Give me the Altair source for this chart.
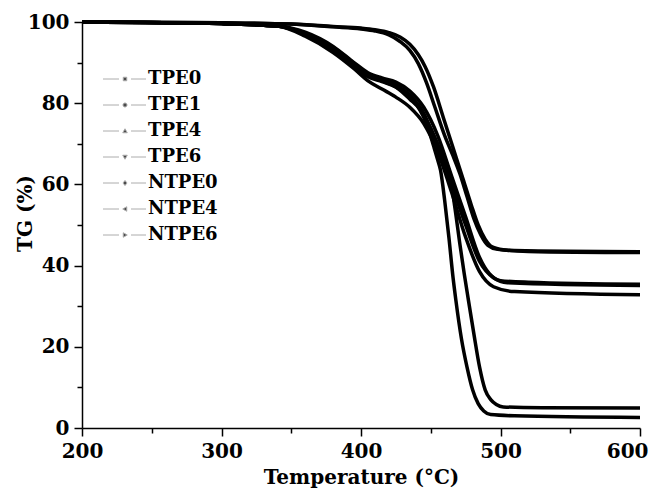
import altair as alt
import pandas as pd

# ---- data (temperature in °C, TG in %) ----
series_names = ["TPE0", "TPE1", "TPE4", "TPE6", "NTPE0", "NTPE4", "NTPE6"]

tpe0_t = [200, 300, 340, 360, 380, 395, 405, 415, 425, 435, 442, 448, 452, 455, 457, 460, 463, 466, 468, 472, 476, 480, 484, 488, 493, 510, 600]
tpe0_v = [100, 99.6, 99, 97, 93.5, 89.5, 87, 85.5, 84, 81, 78.5, 74, 69.5, 66, 63.5, 56, 47, 37, 31.5, 22, 15, 9.4, 6, 4.2, 3.3, 3.0, 2.6]

tpe1_t = [200, 300, 350, 380, 400, 410, 420, 428, 435, 441, 447, 453, 460, 466, 471, 476, 481, 486, 491, 498, 510, 600]
tpe1_v = [100, 99.8, 99.5, 98.8, 98.3, 97.8, 96.8, 95.2, 93, 89.8, 85, 79, 72, 67, 62.5, 57, 51.5, 47.5, 45, 44, 43.7, 43.4]

tpe4_t = [200, 300, 340, 360, 380, 395, 405, 415, 425, 435, 445, 455, 465, 475, 485, 492, 500, 520, 600]
tpe4_v = [100, 99.6, 99, 97.5, 94, 90, 87.5, 86.2, 85.2, 83, 79, 72, 62, 52, 42, 38, 36.3, 35.9, 35.4]

tpe6_t = [200, 300, 340, 360, 380, 395, 405, 415, 425, 435, 445, 455, 465, 475, 485, 495, 505, 600]
tpe6_v = [100, 99.6, 99, 97, 93, 89, 86.5, 85.3, 84, 81.5, 77, 70, 60, 50, 41, 37, 35.8, 35.1]

ntpe0_t = [200, 300, 340, 360, 380, 395, 405, 415, 425, 435, 445, 452, 458, 463, 467, 471, 474, 477, 481, 485, 489, 493, 497, 502, 530, 600]
ntpe0_v = [100, 99.6, 99, 97.2, 93.8, 89.8, 87.2, 85.8, 84.5, 82, 77.5, 72, 67, 63.5, 55, 45, 38, 31.5, 23, 15, 9.4, 7, 5.8, 5.2, 5.0, 4.9]

ntpe4_t = [200, 300, 350, 380, 400, 410, 420, 428, 435, 441, 446, 452, 459, 466, 473, 479, 484, 489, 494, 502, 520, 600]
ntpe4_v = [100, 99.8, 99.5, 98.9, 98.5, 98.1, 97.4, 96.3, 94.5, 92, 89, 84, 76.5, 69, 61.5, 55, 50, 46.5, 44.6, 43.9, 43.5, 43.2]

ntpe6_t = [200, 300, 340, 360, 380, 395, 405, 415, 425, 435, 445, 455, 465, 475, 485, 495, 510, 600]
ntpe6_v = [100, 99.6, 99, 96.5, 92.5, 88.5, 85.5, 83.5, 81.5, 79, 75, 68, 58, 47, 38.5, 34.8, 33.6, 32.8]

x_major = [200, 300, 400, 500, 600]
x_minor = [250, 350, 450, 550]
y_major = [0, 20, 40, 60, 80, 100]
y_minor = [10, 30, 50, 70, 90]

# legend symbols: "— marker —" drawn as custom paths
dash = "M-4.4,0H-1.2M1.2,0H4.2"
legend_shapes = [
    dash + "M-0.35,-0.35H0.35V0.35H-0.35Z",
    dash + "M-0.4,0A0.4,0.4 0 1,0 0.4,0A0.4,0.4 0 1,0 -0.4,0Z",
    dash + "M0,-0.45L0.45,0.35H-0.45Z",
    dash + "M0,0.45L0.45,-0.35H-0.45Z",
    dash + "M0,-0.5L0.4,0L0,0.5L-0.4,0Z",
    dash + "M-0.45,0L0.35,-0.45V0.45Z",
    dash + "M0.45,0L-0.35,-0.45V0.45Z",
]

all_t = [tpe0_t, tpe1_t, tpe4_t, tpe6_t, ntpe0_t, ntpe4_t, ntpe6_t]
all_v = [tpe0_v, tpe1_v, tpe4_v, tpe6_v, ntpe0_v, ntpe4_v, ntpe6_v]
rows = []
for name, ts, vs in zip(series_names, all_t, all_v):
    for t, v in zip(ts, vs):
        rows.append({"series": name, "T": t, "TG": v})
df = pd.DataFrame(rows)

FONT = "DejaVu Serif"

xscale = alt.Scale(domain=[200, 600], nice=False, zero=False)
yscale = alt.Scale(domain=[0, 100], nice=False)

lines = alt.Chart(df).mark_line(
    color="black", strokeWidth=3.5, interpolate="monotone"
).encode(
    x=alt.X("T:Q", scale=xscale, axis=alt.Axis(
        orient="bottom", values=x_major, tickSize=8, labelPadding=5,
        labelFlush=False, labelOverlap=False,
        labelAlign={"condition": {"test": "datum.value == 600", "value": "right"}, "value": "center"},
        labelOffset={"condition": {"test": "datum.value == 600", "value": 8}, "value": 0},
        title="Temperature (°C)", titleY=49, titleBaseline="middle",
        titleFontSize=20)),
    y=alt.Y("TG:Q", scale=yscale, axis=alt.Axis(
        orient="left", values=y_major, tickSize=8, labelPadding=5,
        labelFlush=False, labelOverlap=False,
        title="TG (%)", titleX=-57, titleY=191, titleAngle=270,
        titleBaseline="middle", titleAlign="center", titleFontSize=20)),
    detail="series:N",
)

minor = alt.Chart(df).mark_line(opacity=0).encode(
    x=alt.X("T:Q", scale=xscale, axis=alt.Axis(
        orient="bottom", values=x_minor, tickSize=5, labels=False,
        domain=False, title=None)),
    y=alt.Y("TG:Q", scale=yscale, axis=alt.Axis(
        orient="left", values=y_minor, tickSize=5, labels=False,
        domain=False, title=None)),
    detail="series:N",
)

legend_layer = alt.Chart(df).mark_point(
    filled=True, fill="black", stroke="#8a8a8a", strokeWidth=1, clip=True, size=100
).encode(
    x=alt.value(-200),
    y=alt.value(-200),
    shape=alt.Shape("series:N", sort=series_names,
                    scale=alt.Scale(domain=series_names, range=legend_shapes),
                    legend=alt.Legend(title=None, orient="none", legendX=34, legendY=48,
                                      labelOffset=14, rowPadding=8, padding=0,
                                      symbolSize=100)),
)

chart = alt.layer(lines, minor, legend_layer).resolve_axis(
    x="independent", y="independent"
).properties(
    width=558, height=406,
    autosize=alt.AutoSizeParams(type="none"),
    padding={"left": 74, "top": 14, "right": 9, "bottom": 62},
).configure_view(stroke=None).configure_axis(
    domainColor="black", domainWidth=1.5, tickColor="black", tickWidth=1.5,
    labelFont=FONT, labelFontWeight="bold", labelFontSize=20, labelColor="black",
    titleFont=FONT, titleFontWeight="bold", titleColor="black", grid=False,
).configure_legend(
    labelFont=FONT, labelFontWeight="bold", labelFontSize=18, labelColor="black",
    symbolStrokeWidth=1,
)

chart.save("out.html", embed_options={"renderer": "svg", "actions": False})
